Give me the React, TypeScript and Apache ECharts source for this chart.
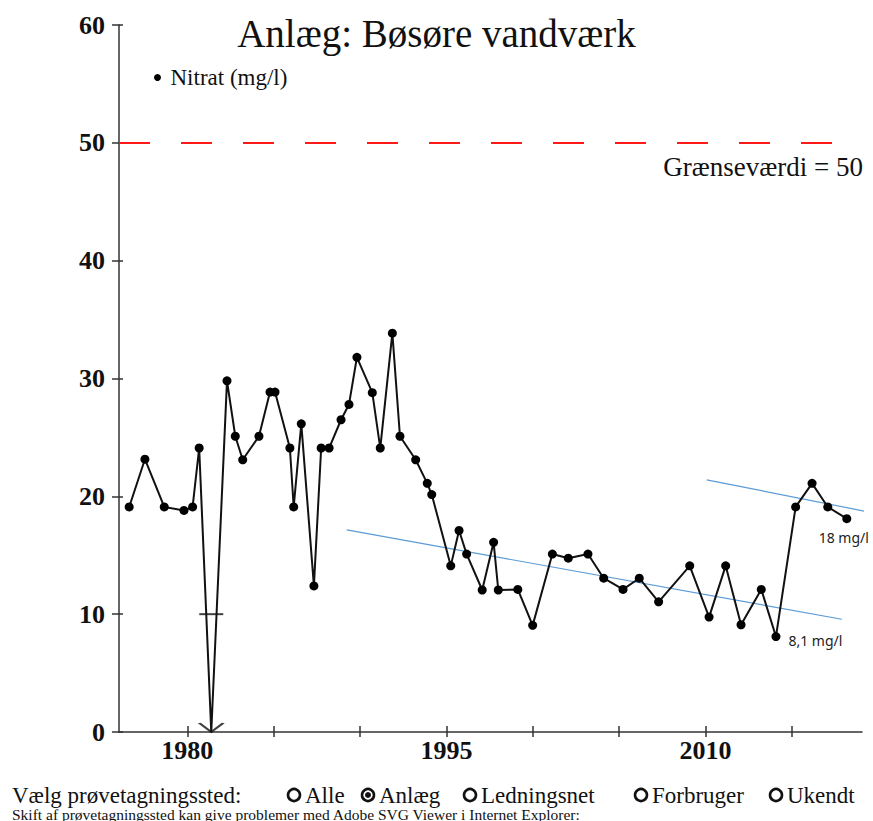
import React, { useEffect, useRef } from "react";
import * as echarts from "echarts";

// ---- data ----
const years = [
  1976.64, 1977.55, 1978.67, 1979.81, 1980.31, 1980.69, 1981.39, 1982.3, 1982.78, 1983.21,
  1984.15, 1984.79, 1985.08, 1985.94, 1986.16, 1986.6, 1987.33, 1987.75, 1988.21, 1988.9,
  1989.36, 1989.82, 1990.71, 1991.17, 1991.87, 1992.31, 1993.22, 1993.89, 1994.15, 1995.25,
  1995.73, 1996.17, 1997.07, 1997.73, 1998.0, 1999.13, 1999.99, 2001.13, 2002.05, 2003.19,
  2004.1, 2005.22, 2006.16, 2007.28, 2009.08, 2010.2, 2011.16, 2012.05, 2013.22, 2014.07,
  2015.21, 2016.16, 2017.07, 2018.17,
];
const nitrate = [
  19.1, 23.15, 19.1, 18.8, 19.1, 24.1, 0, 29.8, 25.1, 23.1,
  25.1, 28.85, 28.85, 24.1, 19.1, 26.15, 12.4, 24.1, 24.1, 26.5,
  27.8, 31.8, 28.8, 24.1, 33.85, 25.1, 23.1, 21.1, 20.15, 14.1,
  17.1, 15.1, 12.05, 16.1, 12.05, 12.1, 9.05, 15.1, 14.75, 15.1,
  13.05, 12.1, 13.05, 11.05, 14.1, 9.75, 14.1, 9.1, 12.1, 8.1,
  19.1, 21.1, 19.1, 18.1,
];
const belowDetectionYear = 1981.39;
const belowDetectionBar = 10;
const trend1Years = [1989.23, 2017.88];
const trend1Values = [17.15, 9.57];
const trend2Years = [2010.06, 2019.69];
const trend2Values = [21.4, 18.6];
const limitValue = 50;
const xTickValues = [1980, 1985, 1990, 1995, 2000, 2005, 2010, 2015];
const xLabelValues = [1980, 1995, 2010];
const annotations: Record<number, string> = { 2014.07: "8,1 mg/l", 2018.17: "18 mg/l" };
const siteOptions = ["Alle", "Anlæg", "Ledningsnet", "Forbruger", "Ukendt"];
const selectedSite = "Anlæg";

const SERIF = "'Liberation Serif', 'Times New Roman', serif";
const SANS = "'Noto Sans', 'Open Sans', sans-serif";

export default function App() {
  const ref = useRef<HTMLDivElement>(null);
  useEffect(() => {
    if (!ref.current) return;
    const chart = echarts.init(ref.current, null, { renderer: "svg" });

    const mainData = years.map((y, i) => {
      const item: any = { value: [y, nitrate[i]] };
      if (y === belowDetectionYear) item.symbol = "none";
      const txt = annotations[y];
      if (txt) {
        const below = txt.startsWith("18");
        item.label = {
          show: true,
          formatter: txt,
          fontFamily: SANS,
          fontSize: 14,
          color: "#222",
          position: below ? "bottom" : "right",
          distance: below ? 7 : 8,
          offset: below ? [-3, 0] : [0, 4],
        };
      }
      return item;
    });

    const radioX = [294, 368, 470, 641, 776];
    const radioY = 795;
    const radioGraphics: any[] = [];
    siteOptions.forEach((name, i) => {
      radioGraphics.push({
        type: "circle",
        shape: { cx: radioX[i], cy: radioY, r: 6 },
        style: { fill: "#fff", stroke: "#111", lineWidth: 2.6 },
      });
      if (name === selectedSite) {
        radioGraphics.push({
          type: "circle",
          shape: { cx: radioX[i], cy: radioY, r: 3 },
          style: { fill: "#111" },
        });
      }
      radioGraphics.push({
        type: "text",
        x: radioX[i] + 11,
        y: radioY,
        style: {
          text: name,
          font: `23px ${SERIF}`,
          fill: "#111",
          textAlign: "left",
          textVerticalAlign: "middle",
        },
      });
    });

    const axisCommonY = { type: "value", min: 0, max: 60, interval: 10 } as any;

    chart.setOption({
      animation: false,
      backgroundColor: "#fff",
      title: {
        text: "Anlæg: Bøsøre vandværk",
        left: "center",
        top: 9,
        textStyle: { fontFamily: SERIF, fontSize: 39, fontWeight: "normal", color: "#111" },
      },
      legend: {
        data: ["Nitrat (mg/l)"],
        left: 149,
        top: 61,
        icon: "circle",
        itemWidth: 16,
        itemHeight: 7,
        textStyle: { fontFamily: SERIF, fontSize: 23, color: "#111" },
      },
      grid: { left: 119, right: 11, top: 25, bottom: 89, containLabel: false },
      xAxis: [
        {
          type: "value",
          min: 1976.05,
          max: 2019.05,
          axisLine: { show: true, lineStyle: { color: "#333", width: 1.5 } },
          axisTick: { show: true, length: 5, customValues: xTickValues, lineStyle: { color: "#333", width: 1.5 } },
          axisLabel: {
            customValues: xLabelValues,
            formatter: (v: number) => String(Math.round(v)),
            fontFamily: SERIF,
            fontSize: 26,
            fontWeight: "bold",
            color: "#111",
            margin: 5,
          },
          splitLine: { show: false },
        },
        {
          type: "value",
          position: "bottom",
          min: 1976.05,
          max: 2019.05,
          axisLine: { show: false },
          axisTick: { show: true, inside: true, length: 6, customValues: xTickValues, lineStyle: { color: "#333", width: 1.5 } },
          axisLabel: { show: false },
          splitLine: { show: false },
        },
      ],
      yAxis: [
        {
          ...axisCommonY,
          axisLine: { show: true, lineStyle: { color: "#333", width: 1.5 } },
          axisTick: { show: true, length: 7, lineStyle: { color: "#333", width: 1.5 } },
          axisLabel: {
            fontFamily: SERIF,
            fontSize: 26,
            fontWeight: "bold",
            color: "#111",
            margin: 14,
          },
          splitLine: { show: false },
        },
        {
          ...axisCommonY,
          position: "left",
          axisLine: { show: false },
          axisTick: { show: true, inside: true, length: 4, lineStyle: { color: "#333", width: 1.5 } },
          axisLabel: { show: false },
          splitLine: { show: false },
        },
      ],
      series: [
        {
          name: "Nitrat (mg/l)",
          type: "line",
          data: mainData,
          symbol: "circle",
          symbolSize: 9,
          showAllSymbol: true,
          lineStyle: { color: "#111", width: 2 },
          itemStyle: { color: "#000" },
          z: 5,
          markLine: {
            silent: true,
            symbol: "none",
            label: { show: false },
            lineStyle: { color: "#ff1a1a", width: 2, type: [31, 31] },
            data: [{ yAxis: limitValue }],
          },
        },
        {
          name: "detektion",
          type: "scatter",
          data: [[belowDetectionYear, belowDetectionBar]],
          symbol: "rect",
          symbolSize: [24, 2],
          itemStyle: { color: "#111" },
          z: 6,
        },
        {
          name: "pil",
          type: "scatter",
          data: [[belowDetectionYear, 0]],
          symbol: "path://M0,0 L12,9 L24,0",
          symbolSize: [24, 9],
          symbolOffset: [0, -4.5],
          itemStyle: { color: "none", borderColor: "#111", borderWidth: 2 },
          z: 6,
        },
        {
          name: "trend1",
          type: "line",
          data: trend1Years.map((y, i) => [y, trend1Values[i]]),
          symbol: "none",
          lineStyle: { color: "#5b9bd5", width: 1.2 },
          z: 4,
        },
        {
          name: "trend2",
          type: "line",
          clip: false,
          data: trend2Years.map((y, i) => [y, trend2Values[i]]),
          symbol: "none",
          lineStyle: { color: "#5b9bd5", width: 1.2 },
          z: 4,
        },
      ],
      graphic: [
        {
          type: "text",
          x: 863,
          y: 167,
          style: {
            text: "Grænseværdi = 50",
            font: `27px ${SERIF}`,
            fill: "#111",
            textAlign: "right",
            textVerticalAlign: "middle",
          },
        },
        {
          type: "text",
          x: 12,
          y: radioY,
          style: {
            text: "Vælg prøvetagningssted:",
            font: `23px ${SERIF}`,
            fill: "#111",
            textAlign: "left",
            textVerticalAlign: "middle",
          },
        },
        {
          type: "text",
          x: 12,
          y: 814,
          style: {
            text: "Skift af prøvetagningssted kan give problemer med Adobe SVG Viewer i Internet Explorer:",
            font: `15.5px ${SERIF}`,
            fill: "#111",
            textAlign: "left",
            textVerticalAlign: "middle",
          },
        },
        ...radioGraphics,
      ],
    });
    return () => chart.dispose();
  }, []);
  return (
    <div
      ref={ref}
      style={{ position: "absolute", left: 0, top: 0, width: 873, height: 821, background: "#fff" }}
    />
  );
}
